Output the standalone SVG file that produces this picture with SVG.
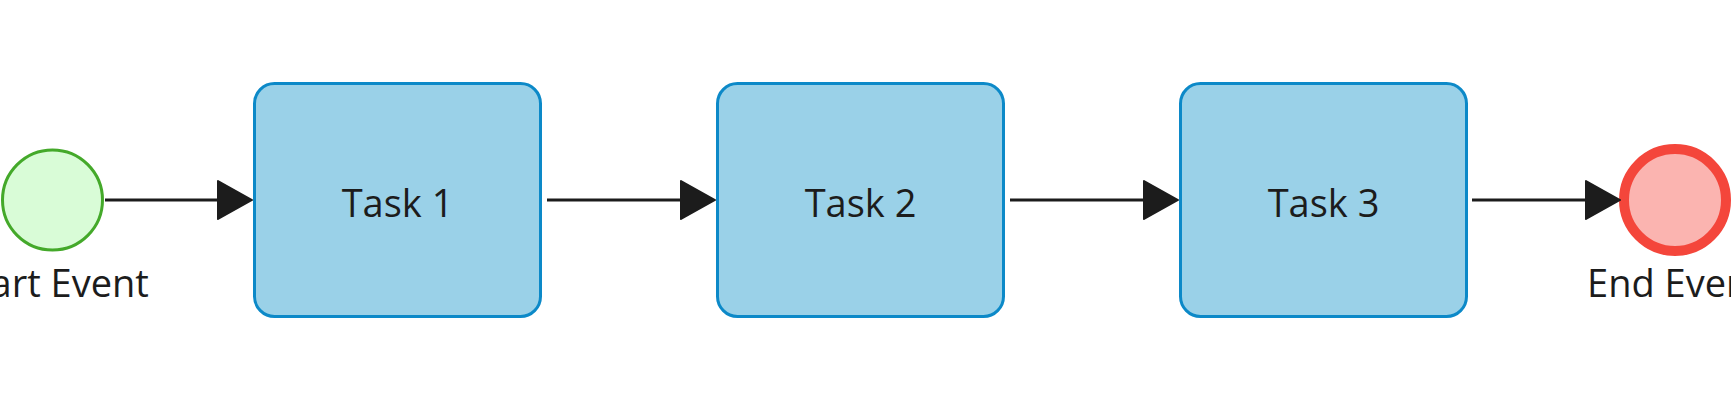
<svg xmlns="http://www.w3.org/2000/svg" width="1731" height="400" viewBox="0 0 1731 400">
<style>
.task rect{fill:#9ad1e8;stroke:#0c89c8;stroke-width:3}
.lbl{font-family:"Open Sans","Noto Sans","Liberation Sans",sans-serif;font-size:38px;fill:#1c1c1c;text-anchor:middle}
.conn line{stroke:#1c1c1c;stroke-width:3}
.conn polygon{fill:#1c1c1c;stroke:#1c1c1c;stroke-width:2;stroke-linejoin:round}
</style>
<rect width="1731" height="400" fill="#ffffff"/>
<g id="start">
<circle cx="52.5" cy="200" r="50" fill="#d9fcd7" stroke="#44a92a" stroke-width="3"/>
<text class="lbl" x="52.5" y="297">Start Event</text>
</g>
<g id="task1" class="task">
<rect x="254.5" y="83.5" width="286" height="233" rx="20"/>
<text class="lbl" x="397.5" y="217">Task 1</text>
</g>
<g id="task2" class="task">
<rect x="717.5" y="83.5" width="286" height="233" rx="20"/>
<text class="lbl" x="860.5" y="217">Task 2</text>
</g>
<g id="task3" class="task">
<rect x="1180.5" y="83.5" width="286" height="233" rx="20"/>
<text class="lbl" x="1323.5" y="217">Task 3</text>
</g>
<g id="end">
<circle cx="1675" cy="200" r="51" fill="#fbb4b0" stroke="#f4463b" stroke-width="10"/>
<text class="lbl" x="1675" y="297">End Event</text>
</g>
<g id="connectors" class="conn">
<line x1="105" y1="200" x2="222" y2="200"/>
<polygon points="218,181 252,200 218,219"/>
<line x1="547" y1="200" x2="685" y2="200"/>
<polygon points="681,181 715,200 681,219"/>
<line x1="1010" y1="200" x2="1148" y2="200"/>
<polygon points="1144,181 1178,200 1144,219"/>
<line x1="1472" y1="200" x2="1590" y2="200"/>
<polygon points="1586,181 1620,200 1586,219"/>
</g>
</svg>
